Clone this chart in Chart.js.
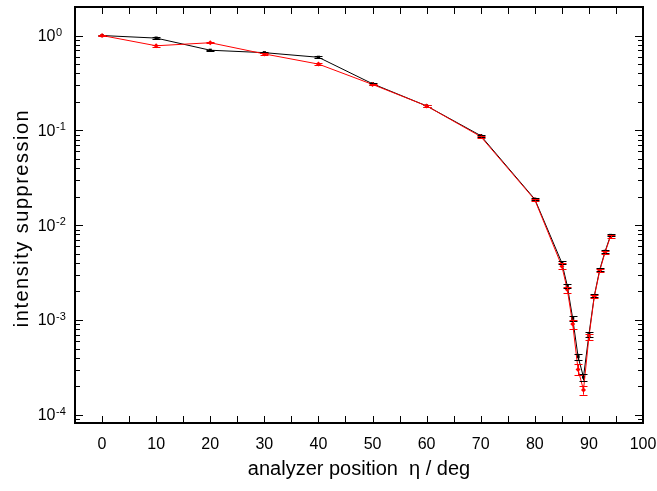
<!DOCTYPE html>
<html>
<head>
<meta charset="utf-8">
<script src="https://cdn.jsdelivr.net/npm/chart.js@4"></script>
<style>
  html, body { margin: 0; padding: 0; background: #fff; }
  #wrap { width: 657px; height: 491px; }
</style>
</head>
<body>
<div id="wrap"><canvas id="chart" width="657" height="491"></canvas></div>
<script>
const FONT = '"Liberation Sans", Arial, sans-serif';

const angles = [0, 10, 20, 30, 40, 50, 60, 70, 80, 85, 86, 87, 88, 89, 90, 91, 92, 93, 94];

const blackValues = [1.0, 0.94, 0.70, 0.66, 0.59, 0.31, 0.181, 0.088, 0.0188, 0.0040, 0.0023, 0.00104, 0.00041, 0.00025, 0.00070, 0.00180, 0.0034, 0.0053, 0.0078];
const blackErrors = [0.02, 0.015, 0.012, 0.012, 0.012, 0.006, 0.004, 0.002, 0.0004, 0.00015, 0.0001, 0.00006, 0.00003, 0.00002, 0.00004, 0.00006, 0.0001, 0.00015, 0.0002];

const redValues = [1.0, 0.78, 0.84, 0.64, 0.50, 0.305, 0.181, 0.086, 0.0185, 0.0037, 0.0021, 0.00091, 0.00030, 0.000183, 0.00066, 0.00177, 0.0033, 0.0052, 0.0076];
const redErrors = [0.02, 0.015, 0.015, 0.012, 0.01, 0.006, 0.004, 0.002, 0.0004, 0.00025, 0.00015, 0.0001, 0.00004, 0.00002, 0.00005, 0.00008, 0.00012, 0.00018, 0.00025];

const xTicks = [0, 10, 20, 30, 40, 50, 60, 70, 80, 90, 100];
const yDecades = [0, -1, -2, -3, -4];

const toPoints = (vals) => vals.map((v, i) => ({ x: angles[i], y: v }));

// error bars + inward ticks + frame + superscript y labels + y title
const plotExtras = {
  id: 'plotExtras',
  afterDatasetsDraw(chart) {
    const { ctx, chartArea: a, scales: { x, y } } = chart;
    ctx.save();

    // error bars, black first then red
    [[blackValues, blackErrors, '#000'], [redValues, redErrors, '#ff0000']].forEach(([vals, errs, col]) => {
      ctx.strokeStyle = col;
      ctx.lineWidth = 1;
      vals.forEach((v, i) => {
        const px = Math.round(x.getPixelForValue(angles[i])) + 0.5;
        const yt = y.getPixelForValue(v + errs[i]);
        const yb = y.getPixelForValue(v - errs[i]);
        ctx.beginPath();
        ctx.moveTo(px, yt); ctx.lineTo(px, yb);
        ctx.moveTo(px - 4, Math.round(yt) + 0.5); ctx.lineTo(px + 4, Math.round(yt) + 0.5);
        ctx.moveTo(px - 4, Math.round(yb) + 0.5); ctx.lineTo(px + 4, Math.round(yb) + 0.5);
        ctx.stroke();
      });
    });

    // frame
    ctx.strokeStyle = '#000';
    ctx.lineWidth = 2;
    ctx.strokeRect(a.left, a.top, a.right - a.left, a.bottom - a.top);

    // x ticks, inward on bottom and top
    ctx.lineWidth = 1;
    ctx.beginPath();
    for (let v = 0; v <= 100; v += 5) {
      const px = Math.round(x.getPixelForValue(v)) + 0.5;
      ctx.moveTo(px, a.bottom); ctx.lineTo(px, a.bottom - 7);
      ctx.moveTo(px, a.top); ctx.lineTo(px, a.top + 7);
    }
    ctx.stroke();

    // y ticks, inward on left and right
    ctx.beginPath();
    for (let d = -5; d <= 0; d++) {
      for (let m = 1; m <= 9; m++) {
        const v = m * Math.pow(10, d);
        if (v < y.min || v > y.max) continue;
        const py = Math.round(y.getPixelForValue(v)) + 0.5;
        const len = m === 1 ? 8 : 5;
        ctx.moveTo(a.left, py); ctx.lineTo(a.left + len, py);
        ctx.moveTo(a.right, py); ctx.lineTo(a.right - len, py);
      }
    }
    ctx.stroke();

    // y labels 10^n
    ctx.fillStyle = '#000';
    yDecades.forEach((d) => {
      const py = y.getPixelForValue(Math.pow(10, d));
      ctx.font = '16px ' + FONT;
      ctx.textAlign = 'right';
      ctx.textBaseline = 'middle';
      ctx.fillText('10', 55.5, py + 1);
      ctx.font = '11px ' + FONT;
      ctx.textAlign = 'left';
      ctx.textBaseline = 'alphabetic';
      ctx.fillText(d === 0 ? '0' : '-' + Math.abs(d), 56, py);
    });

    // y title
    ctx.translate(22, (a.top + a.bottom) / 2 + 3);
    ctx.rotate(-Math.PI / 2);
    ctx.font = '20px ' + FONT;
    ctx.letterSpacing = '1.5px';
    ctx.textAlign = 'center';
    ctx.textBaseline = 'middle';
    ctx.fillText('intensity suppression', 0, 0);

    ctx.restore();
  }
};

new Chart(document.getElementById('chart'), {
  type: 'line',
  data: {
    datasets: [
      {
        label: 'red',
        data: toPoints(redValues),
        borderColor: '#ff0000',
        backgroundColor: '#ff0000',
        borderWidth: 1,
        pointStyle: 'rectRot',
        pointRadius: 2.5,
        pointBorderWidth: 0,
      },
      {
        label: 'black',
        data: toPoints(blackValues),
        borderColor: '#000',
        backgroundColor: '#000',
        borderWidth: 1,
        pointStyle: 'rect',
        pointRadius: 2.2,
        pointBorderWidth: 0,
      },
    ],
  },
  options: {
    responsive: false,
    animation: false,
    layout: { padding: { top: 7, right: 14, left: 0, bottom: 0 } },
    plugins: {
      legend: { display: false },
      tooltip: { enabled: false },
    },
    scales: {
      x: {
        type: 'linear',
        min: -5,
        max: 100,
        afterBuildTicks(s) { s.ticks = xTicks.map((v) => ({ value: v })); },
        afterFit(s) { s.height = 68; s.paddingLeft = 0; s.paddingRight = 0; },
        ticks: {
          color: '#000',
          font: { family: FONT, size: 16 },
          padding: 12,
          maxRotation: 0,
          autoSkip: false,
        },
        grid: { display: false, drawTicks: false },
        border: { display: false },
        title: {
          display: true,
          text: 'analyzer position  η / deg',
          color: '#000',
          font: { family: FONT, size: 20 },
          padding: { top: 0, bottom: 10 },
        },
      },
      y: {
        type: 'logarithmic',
        min: 8.2e-5,
        max: 2,
        afterFit(s) { s.width = 75; s.paddingTop = 0; s.paddingBottom = 0; },
        ticks: { display: false },
        grid: { display: false, drawTicks: false },
        border: { display: false },
        title: { display: false },
      },
    },
  },
  plugins: [plotExtras],
});
</script>
</body>
</html>
